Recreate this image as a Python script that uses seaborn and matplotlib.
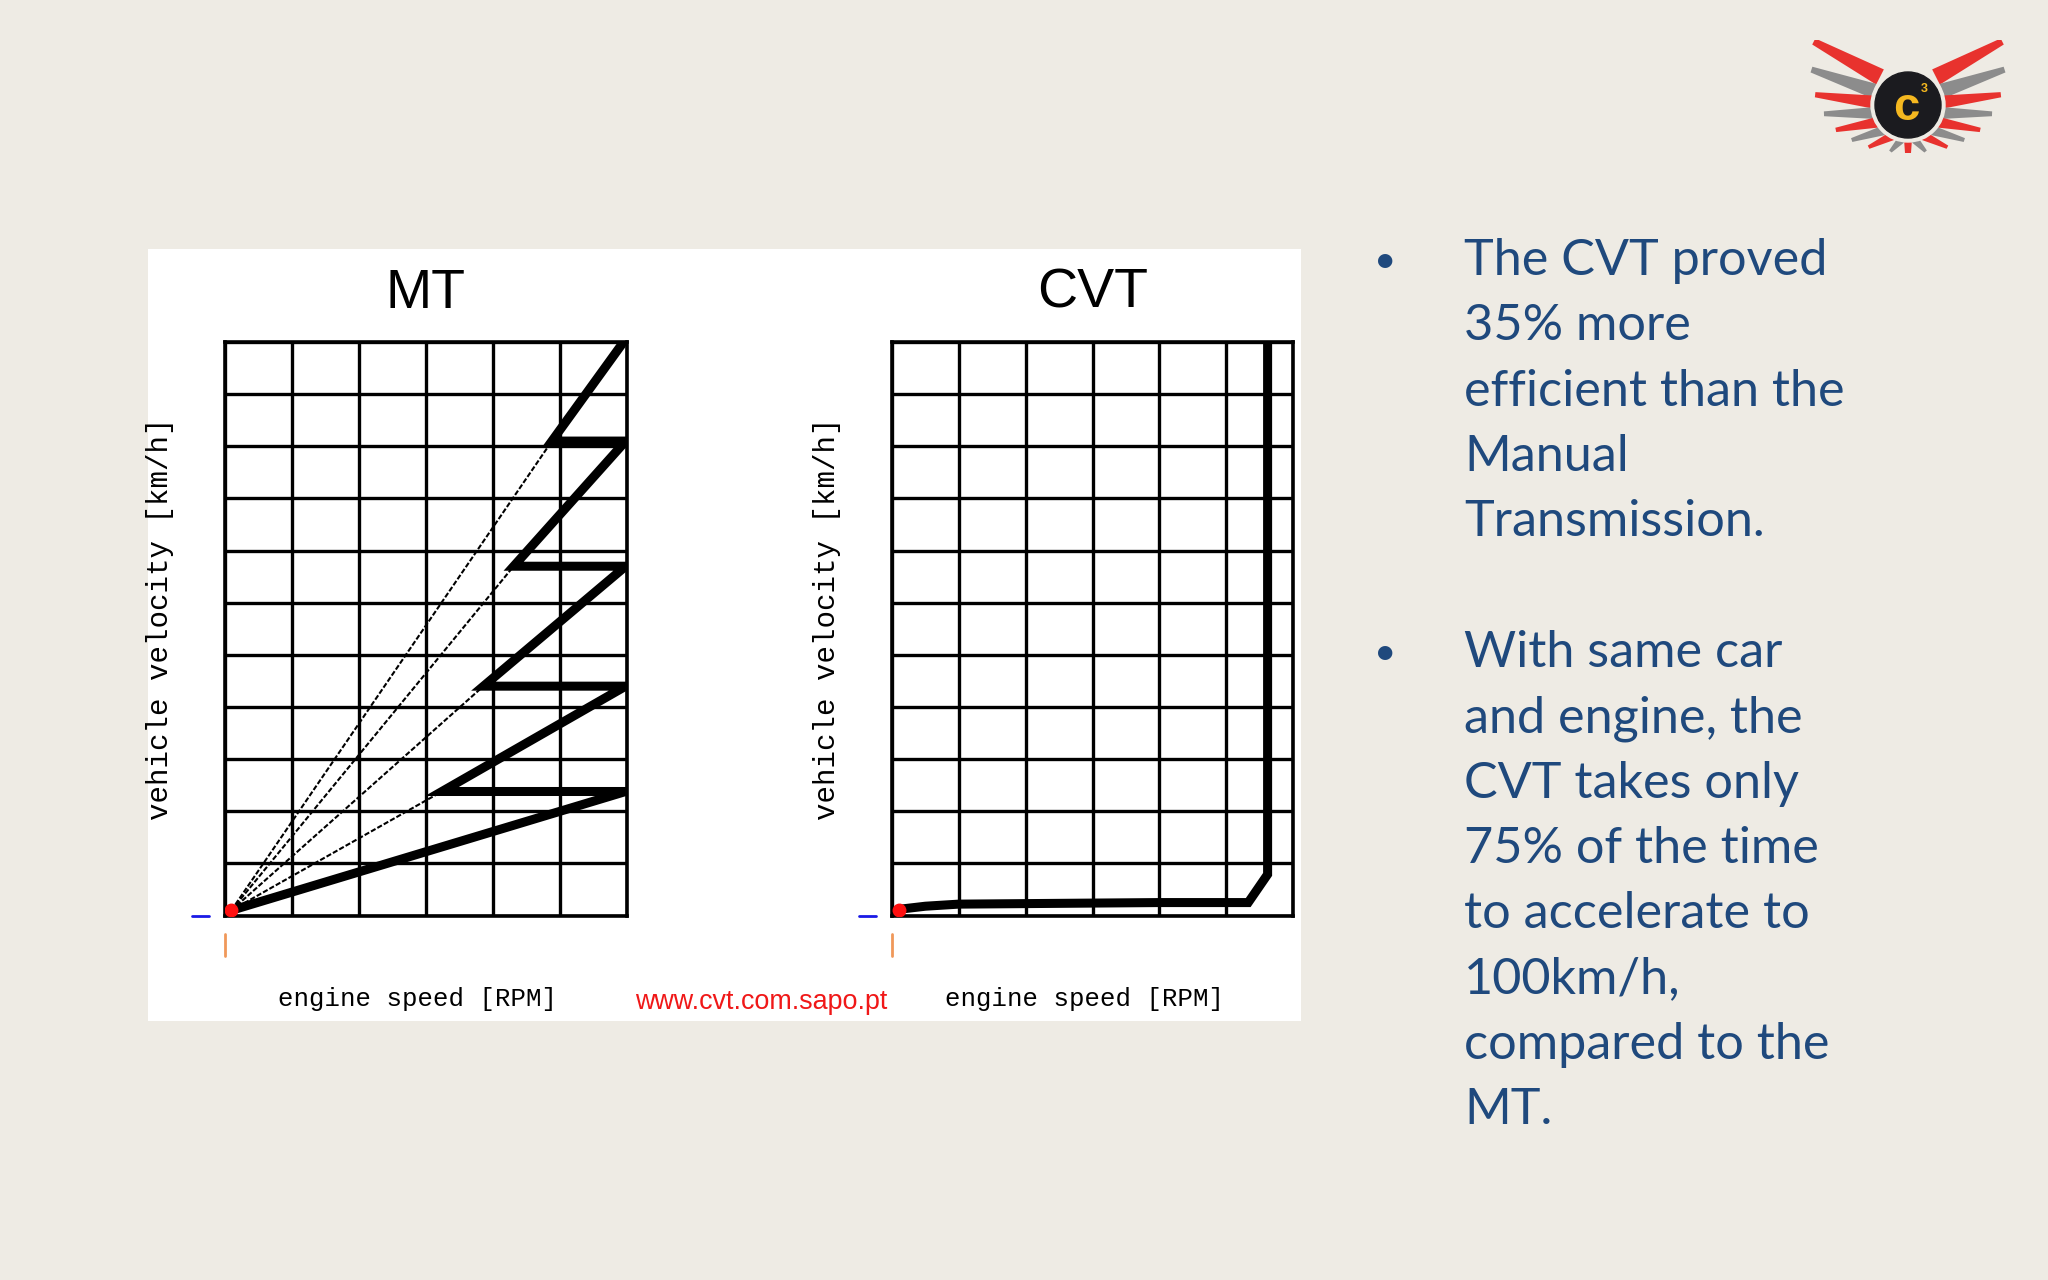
import numpy as np
import pandas as pd
import seaborn as sns
import matplotlib.pyplot as plt
from matplotlib.patches import Rectangle, Circle, Polygon

# datos (unidades de cuadrícula: 6 columnas x 11 filas)
mt_rpm = [0.10, 5.98, 3.24, 5.98, 3.86, 5.98, 4.31, 5.98, 4.88, 5.92]
mt_vel = [0.10, 2.38, 2.38, 4.40, 4.40, 6.70, 6.70, 9.10, 9.10, 10.95]
# rectas finas de cada marcha (desde el origen hasta el punto de cambio)
gear_end_rpm = [3.24, 3.86, 4.31, 4.88]
gear_end_vel = [2.38, 4.40, 6.70, 9.10]
cvt_rpm = [0.10, 0.50, 1.00, 2.00, 3.00, 4.00, 5.33, 5.62, 5.62]
cvt_vel = [0.12, 0.18, 0.22, 0.23, 0.24, 0.25, 0.25, 0.79, 11.00]

titulos = ["MT", "CVT"]
ylabel = "vehicle velocity [km/h]"
xlabel = "engine speed [RPM]"
bullets = [
    ["The CVT proved", "35% more", "efficient than the", "Manual", "Transmission."],
    ["With same car", "and engine, the", "CVT takes only", "75% of the time",
     "to accelerate to", "100km/h,", "compared to the", "MT."],
]

sns.set_style("white")
plt.rcParams['font.family'] = ['Liberation Sans', 'DejaVu Sans']

W, H = 2048, 1280
bg = "#EEEBE4"
fig = plt.figure(figsize=(W / 100, H / 100), dpi=100, facecolor=bg)

def fx(px):
    return px / W

def fy(py):
    return 1 - py / H

# panel blanco de la imagen
panel = fig.add_axes([fx(148), fy(1021), fx(1301) - fx(148), fy(249) - fy(1021)], zorder=-5)
panel.set_facecolor("white")
panel.axis("off")
panel.add_patch(Rectangle((0, 0), 1, 1, transform=panel.transAxes, color="white", lw=0))

df_mt = pd.DataFrame({"rpm": mt_rpm, "vel": mt_vel})
df_cvt = pd.DataFrame({"rpm": cvt_rpm, "vel": cvt_vel})

cajas = [(224.6, 627.0), (892.0, 1293.0)]
top, bottom = 342.0, 915.6
axes = []
for (l, r), titulo in zip(cajas, titulos):
    ax = fig.add_axes([fx(l), fy(bottom), fx(r) - fx(l), fy(top) - fy(bottom)])
    ax.set_facecolor("white")
    ax.set_xlim(0, 6)
    ax.set_ylim(0, 11)
    ax.set_xticks(range(7))
    ax.set_yticks(range(12))
    ax.set_xticklabels([])
    ax.set_yticklabels([])
    ax.tick_params(length=0)
    ax.grid(True, color="black", lw=2.4)
    ax.set_axisbelow(True)
    for s in ax.spines.values():
        s.set_visible(True)
        s.set_color("black")
        s.set_linewidth(2.6)
    cx = fx((l + r) / 2)
    fig.text(cx, fy(294), titulo, ha="center", va="center", fontsize=40, color="black")
    fig.text(fx(l - 65), fy((top + bottom) / 2 - 10), ylabel, rotation=90, ha="center", va="center",
             fontsize=21, family=["Liberation Mono"], color="black")
    fig.text(cx - fx(8), fy(999), xlabel, ha="center", va="center",
             fontsize=18.5, family=["Liberation Mono"], color="black")
    # marcas pequeñas azul y naranja
    ax.plot([-0.49, -0.24], [0, 0], color="#1A1AE6", lw=2, clip_on=False)
    ax.plot([0, 0], [-0.35, -0.78], color="#F0985A", lw=2, clip_on=False)
    axes.append(ax)

ax_mt, ax_cvt = axes
for xe, ye in zip(gear_end_rpm, gear_end_vel):
    ax_mt.plot([0.1, xe], [0.1, ye], color="black", lw=1.5, ls=(0, (2.5, 1)))
sns.lineplot(data=df_mt, x="rpm", y="vel", sort=False, estimator=None, ax=ax_mt,
             color="black", lw=6.5, solid_joinstyle="miter")
sns.lineplot(data=df_cvt, x="rpm", y="vel", sort=False, estimator=None, ax=ax_cvt,
             color="black", lw=6.5, solid_joinstyle="miter")
for ax in axes:
    ax.set_xlabel("")
    ax.set_ylabel("")
    ax.plot([0.1], [0.1], "o", color="#FF1010", ms=9, zorder=5)

fig.text(fx(761), fy(1002), "www.cvt.com.sapo.pt", ha="center", va="center",
         fontsize=19.4, color="#F01818", family=["Liberation Sans"])

# texto de la derecha
azul = "#1F497D"
fuente = ["Lato", "DejaVu Sans"]
y0s = [261, 653]
for lineas, y0 in zip(bullets, y0s):
    fig.text(fx(1385), fy(y0), "•", ha="center", va="center", fontsize=28, color=azul, family=fuente)
    for i, t in enumerate(lineas):
        fig.text(fx(1464), fy(y0 + i * 65.3), t, ha="left", va="center", fontsize=36.3,
                 color=azul, family=fuente)

# logo
lg = fig.add_axes([fx(1798), fy(160), fx(220), fy(40) - fy(160)])
lg.set_xlim(-110, 110)
lg.set_ylim(-55, 65)
lg.set_aspect("equal")
lg.axis("off")
# plumas del ala derecha: color, inicio, punta, ancho
plumas = [("#E8322E", (28, 28), (95, 62), 17), ("#8C8C8C", (34, 14), (97, 34), 15),
          ("#E8322E", (35, 3), (93, 9), 13), ("#8C8C8C", (33, -8), (84, -10), 12),
          ("#E8322E", (29, -17), (72, -26), 11), ("#8C8C8C", (23, -25), (56, -36), 10),
          ("#E8322E", (16, -31), (39, -43), 9), ("#8C8C8C", (7, -35), (17, -47), 8)]
for col, p0, p1, ancho in plumas:
    p0 = np.array(p0, float)
    p1 = np.array(p1, float)
    d = (p1 - p0) / np.linalg.norm(p1 - p0)
    nrm = np.array([-d[1], d[0]])
    pts = np.array([p0 + nrm * ancho / 2, p1 + nrm * ancho * 0.3, p1 - nrm * ancho * 0.1,
                    p0 - nrm * ancho / 2])
    for lado in (1, -1):
        q = pts.copy()
        q[:, 0] *= lado
        lg.add_patch(Polygon(q, closed=True, color=col, lw=0))
lg.add_patch(Polygon([(4, -34), (3, -48), (-3, -48), (-4, -34)], closed=True, color="#E8322E", lw=0))
lg.add_patch(Circle((0, 0), 37, color="#EEEBE4"))
lg.add_patch(Circle((0, 0), 33, color="#1B1B1F"))
lg.text(-2, -3, "c", ha="center", va="center", fontsize=34, fontweight="bold", color="#F5B820")
lg.text(16, 16, "3", ha="center", va="center", fontsize=9, fontweight="bold", color="#F5B820")

plt.savefig("out.png", dpi=100, facecolor=bg)
